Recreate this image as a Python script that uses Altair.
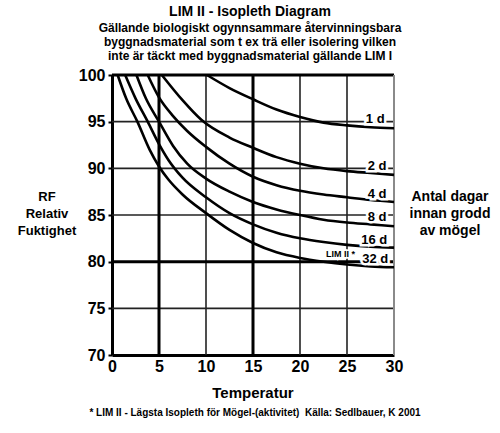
import altair as alt
import pandas as pd

# ---- data ----
t_1d = [10.1, 12.5, 15, 17.5, 20, 22.5, 25, 27.5, 30]
rh_1d = [100, 98.6, 97.4, 96.3, 95.5, 94.9, 94.6, 94.4, 94.3]

t_2d = [5.3, 7.5, 9.5, 12.5, 15, 17.5, 20, 22.5, 25, 27.5, 30]
rh_2d = [100, 97.3, 95.2, 93.3, 92.2, 91.2, 90.5, 90.0, 89.7, 89.5, 89.3]

t_4d = [3.8, 5, 6.5, 8, 10, 12.5, 15, 17.5, 20, 22.5, 25, 27.5, 30]
rh_4d = [100, 97.6, 95.6, 94.0, 92.3, 90.5, 89.1, 88.2, 87.6, 87.2, 86.9, 86.6, 86.4]

t_8d = [2.6, 3.6, 5, 6.5, 8, 10, 12.5, 15, 17.5, 20, 22.5, 25, 27.5, 30]
rh_8d = [100, 97.5, 95.0, 92.4, 90.5, 88.9, 87.5, 86.4, 85.6, 85.0, 84.5, 84.2, 84.0, 83.8]

t_16d = [1.4, 2.5, 3.8, 5, 6, 7.5, 10, 12.5, 15, 17.5, 20, 22.5, 25, 27.5, 30]
rh_16d = [100, 97.5, 95.0, 92.6, 90.9, 89.0, 86.9, 85.2, 84.0, 83.1, 82.5, 82.1, 81.8, 81.6, 81.5]

t_32d = [0.6, 1.5, 2.7, 4, 5, 6, 7.5, 10, 12.5, 15, 17.5, 20, 22.5, 25, 27.5, 30]
rh_32d = [100, 97.5, 95.0, 92.0, 90.2, 88.8, 87.2, 85.2, 83.4, 82.0, 81.0, 80.4, 80.0, 79.7, 79.5, 79.4]

curve_names = ["1 d", "2 d", "4 d", "8 d", "16 d", "32 d"]
curve_t = [t_1d, t_2d, t_4d, t_8d, t_16d, t_32d]
curve_rh = [rh_1d, rh_2d, rh_4d, rh_8d, rh_16d, rh_32d]

label_text = ["1 d", "2 d", "4 d", "8 d", "16 d", "32 d"]
label_t = [28.0, 28.2, 28.2, 28.2, 27.9, 28.0]
label_rh = [95.3, 90.2, 87.2, 84.8, 82.3, 80.3]

lim_text = ["LIM II *"]
lim_t = [24.3]
lim_rh = [80.8]

x_ticks = [0, 5, 10, 15, 20, 25, 30]
y_ticks = [70, 75, 80, 85, 90, 95, 100]
x_grid_thin = [10, 20, 25]
x_grid_thick = [5, 15]
y_grid_thin = [75, 85, 90, 95]
y_grid_thick = [80]

title_text = "LIM II - Isopleth Diagram"
subtitle_lines = [
    "Gällande biologiskt ogynnsammare återvinningsbara",
    "byggnadsmaterial som t ex trä eller isolering vilken",
    "inte är täckt med byggnadsmaterial gällande LIM I",
]
x_title = "Temperatur"
y_title_lines = ["RF", "Relativ", "Fuktighet"]
right_lines = ["Antal dagar", "innan grodd", "av mögel"]
footnote = "* LIM II - Lägsta Isopleth för Mögel-(aktivitet)\u00a0 Källa: Sedlbauer, K 2001"

# ---- build tables ----
rows = []
for name, ts, rhs in zip(curve_names, curve_t, curve_rh):
    for i, (t, r) in enumerate(zip(ts, rhs)):
        rows.append({"curve": name, "T": t, "RH": r, "order": i})
curves_df = pd.DataFrame(rows)

labels_df = pd.DataFrame({"label": label_text, "T": label_t, "RH": label_rh})
lim_df = pd.DataFrame({"label": lim_text, "T": lim_t, "RH": lim_rh})

W, H = 282, 280
FONT = "Liberation Sans"

xs = alt.Scale(domain=[0, 30], nice=False, zero=False)
ys = alt.Scale(domain=[70, 100], nice=False, zero=False)

base_x = alt.X("T:Q", scale=xs, title=None,
               axis=alt.Axis(values=x_ticks, grid=False, labelFont=FONT, labelFontSize=16,
                             labelFontWeight="bold", labelColor="black", tickSize=0,
                             labelPadding=3, domain=True, domainColor="black",
                             domainWidth=3, labelFlush=False))
base_y = alt.Y("RH:Q", scale=ys, title=None,
               axis=alt.Axis(values=y_ticks, grid=False, labelFont=FONT, labelFontSize=16,
                             labelFontWeight="bold", labelColor="black", tickSize=4,
                             tickColor="black", tickWidth=2, labelPadding=3, domain=True,
                             domainColor="black", domainWidth=3, labelFlush=False))

# grid rules
vthin = alt.Chart(pd.DataFrame({"T": x_grid_thin})).mark_rule(color="#222", strokeWidth=1.6).encode(
    x=alt.X("T:Q", scale=xs))
vthick = alt.Chart(pd.DataFrame({"T": x_grid_thick})).mark_rule(color="black", strokeWidth=3).encode(
    x=alt.X("T:Q", scale=xs))
hthin = alt.Chart(pd.DataFrame({"RH": y_grid_thin})).mark_rule(color="#222", strokeWidth=1.6).encode(
    y=alt.Y("RH:Q", scale=ys))
hthick = alt.Chart(pd.DataFrame({"RH": y_grid_thick})).mark_rule(color="black", strokeWidth=3).encode(
    y=alt.Y("RH:Q", scale=ys))
top_rule = alt.Chart(pd.DataFrame({"RH": [100]})).mark_rule(color="black", strokeWidth=3).encode(
    y=alt.Y("RH:Q", scale=ys))
right_rule = alt.Chart(pd.DataFrame({"T": [30]})).mark_rule(color="#8a8a8a", strokeWidth=2).encode(
    x=alt.X("T:Q", scale=xs))

# axes carrier (invisible points)
axes_layer = alt.Chart(pd.DataFrame({"T": [0, 30], "RH": [70, 100]})).mark_point(opacity=0).encode(
    x=base_x, y=base_y)

lines = alt.Chart(curves_df).mark_line(color="black", strokeWidth=2.6, interpolate="monotone").encode(
    x=alt.X("T:Q", scale=xs), y=alt.Y("RH:Q", scale=ys), detail="curve:N", order="order:Q")

halo = alt.Chart(labels_df).mark_text(font=FONT, fontSize=13, fontWeight="bold", color="white",
                                       stroke="white", strokeWidth=5).encode(
    x=alt.X("T:Q", scale=xs), y=alt.Y("RH:Q", scale=ys), text="label:N")
labels = alt.Chart(labels_df).mark_text(font=FONT, fontSize=13, fontWeight="bold", color="black").encode(
    x=alt.X("T:Q", scale=xs), y=alt.Y("RH:Q", scale=ys), text="label:N")
lim_halo = alt.Chart(lim_df).mark_text(font=FONT, fontSize=9, fontWeight="bold", color="white",
                                       stroke="white", strokeWidth=3).encode(
    x=alt.X("T:Q", scale=xs), y=alt.Y("RH:Q", scale=ys), text="label:N")
lim_lab = alt.Chart(lim_df).mark_text(font=FONT, fontSize=9, fontWeight="bold", color="black").encode(
    x=alt.X("T:Q", scale=xs), y=alt.Y("RH:Q", scale=ys), text="label:N")


def ann(text, x, y, size, align="center"):
    return alt.Chart(pd.DataFrame({"s": [text]})).mark_text(
        font=FONT, fontSize=size, fontWeight="bold", color="black", align=align,
        baseline="middle").encode(text="s:N", x=alt.value(x), y=alt.value(y))


ox, oy = 112, 75  # plot origin in page pixels
texts = [ann(title_text, 250 - ox, 12 - oy, 14)]
for line, yy in zip(subtitle_lines, [28, 42, 56]):
    texts.append(ann(line, 250 - ox, yy - oy, 12))
texts.append(ann(x_title, 253 - ox, 393 - oy, 15))
texts.append(ann(footnote, 255 - ox, 413 - oy, 10))
for line, yy in zip(y_title_lines, [197, 214, 231]):
    texts.append(ann(line, 47 - ox, yy - oy, 13))
for line, yy in zip(right_lines, [197, 214, 231]):
    texts.append(ann(line, 450 - ox, yy - oy, 14))

chart = alt.layer(
    vthin, hthin, vthick, hthick, top_rule, right_rule, axes_layer, lines,
    halo, labels, lim_halo, lim_lab, *texts
).properties(
    width=W, height=H,
    autosize=alt.AutoSizeParams(type="none"),
    padding={"left": ox, "top": oy, "right": 500 - ox - W, "bottom": 433 - oy - H},
    background="white",
).configure_view(stroke=None)

chart.save("out.html", embed_options={"renderer": "svg", "actions": False})
